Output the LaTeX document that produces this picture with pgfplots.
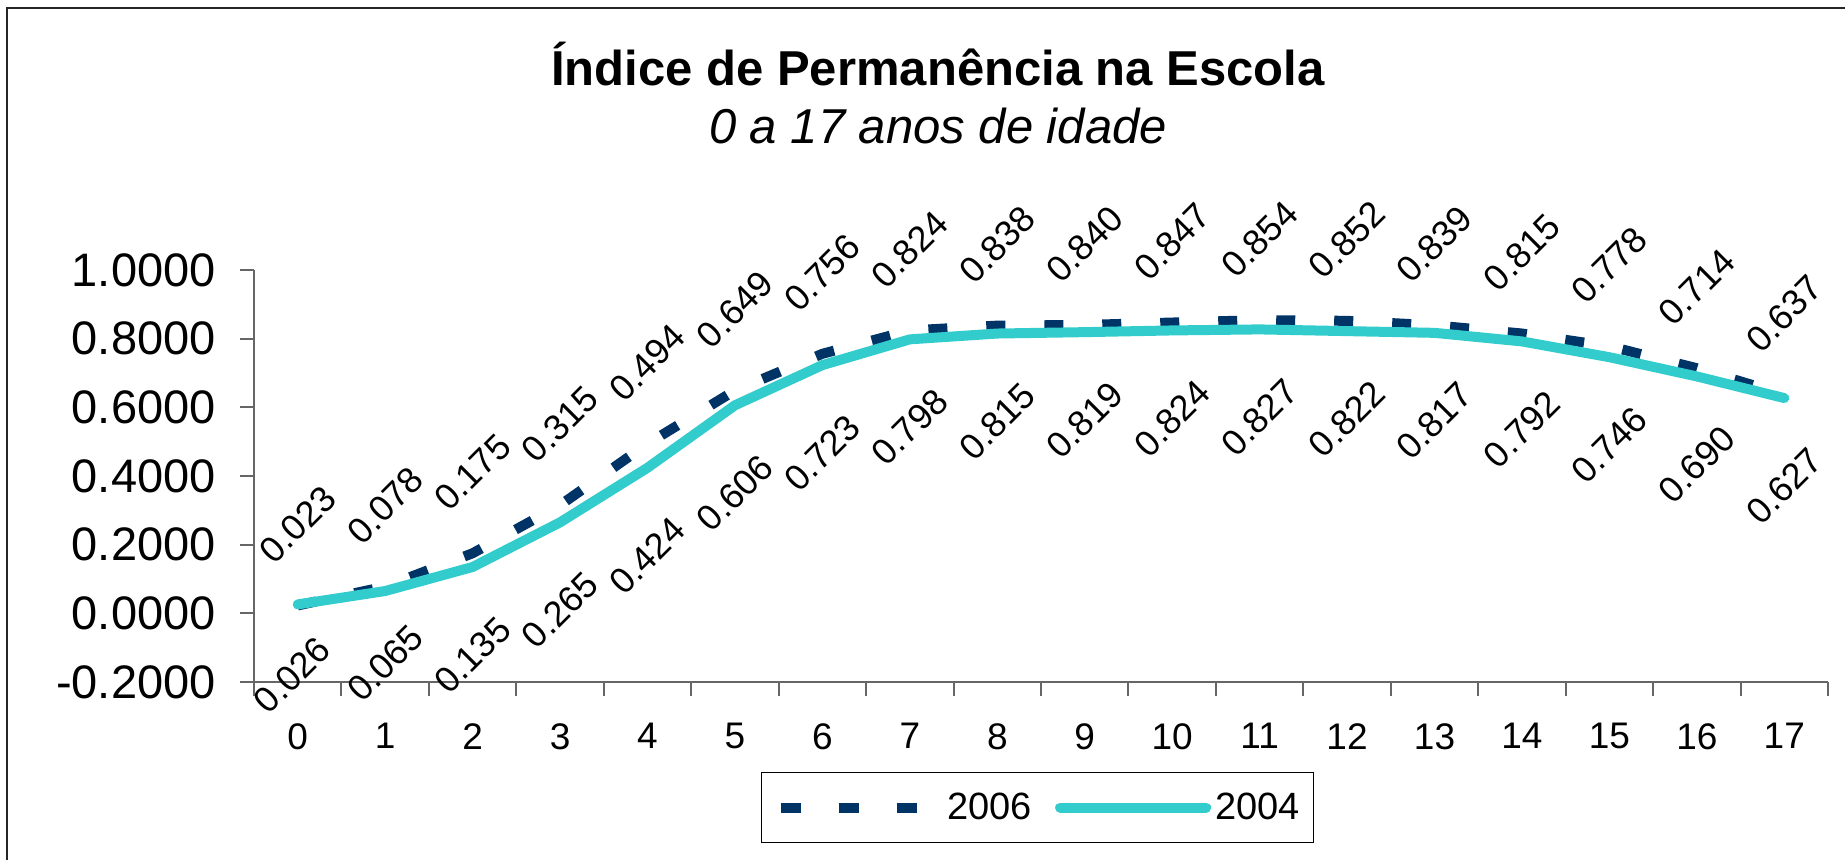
\documentclass[border=0pt]{standalone}
\usepackage{pgfplots}
\pgfplotsset{compat=1.18}
\usepackage{fontspec}
\setmainfont{Liberation Sans}
\definecolor{navy}{HTML}{003366}
\definecolor{turq}{HTML}{33CCCC}
\definecolor{axgray}{HTML}{666666}
\pgfplotsset{
  lbl/.style={nodes near coords={\pgfmathprintnumber[fixed,fixed zerofill,precision=3,assume math mode=true]{\pgfplotspointmeta}},
    every node near coord/.append style={black, font=\fontsize{18}{20}\selectfont, anchor=center, yshift=#1, rotate=45}},
}
\begin{document}
\begin{tikzpicture}
\useasboundingbox (0,0) rectangle (922.5pt,429.5pt);
\draw[line width=1pt, black!85] (3.5pt,-2pt) -- (3.5pt,425.5pt) -- (926pt,425.5pt);
\node[anchor=base, font=\fontsize{24.5}{29}\selectfont\bfseries] at (469pt,386.5pt) {Índice de Permanência na Escola};
\node[anchor=base, font=\fontsize{24.5}{29}\selectfont\itshape] at (469pt,357.75pt) {0 a 17 anos de idade};
\begin{axis}[
  at={(127pt,88.5pt)}, anchor=south west,
  scale only axis, width=787pt, height=206pt,
  xmin=-0.5, xmax=17.5, ymin=-0.2, ymax=1.0,
  axis x line*=bottom, axis y line*=left,
  axis line style={-, line width=1pt, draw=axgray},
  xtick={0,...,17},
  minor xtick={-0.5,0.5,...,17.5},
  ytick={-0.2,0,0.2,0.4,0.6,0.8,1.0},
  minor ytick={-0.2,0,0.2,0.4,0.6,0.8,1.0},
  major tick length=0pt,
  minor tick length=7pt,
  tick align=outside,
  tick style={line width=1pt, draw=axgray},
  yticklabel style={font=\fontsize{23.5}{28}\selectfont, anchor=east, inner sep=0pt, xshift=-19pt,
    /pgf/number format/.cd, fixed, fixed zerofill, precision=4, assume math mode=true},
  xticklabel style={font=\fontsize{18.5}{22}\selectfont, anchor=north, inner sep=0pt, yshift=-20.5pt,
    /pgf/number format/assume math mode=true},
  clip=false,
  legend style={at={(0.322,-0.2184)}, anchor=north west, draw=black, line width=0.75pt,
    font=\fontsize{19}{22}\selectfont, legend columns=2, inner xsep=7pt, inner ysep=10pt,
    nodes={inner sep=0pt},
    /tikz/column 1/.style={column sep=13pt},
    /tikz/column 2/.style={column sep=11.5pt},
    /tikz/column 3/.style={column sep=2pt}},
]
\addplot[navy, line width=5pt, dash pattern=on 9.5pt off 19.5pt,
  legend image code/.code={\draw[navy, line width=5pt, dash pattern=on 10pt off 19pt] (0pt,0pt) -- (68pt,0pt);},
  lbl=40.5pt]
coordinates {(0,0.023)(1,0.078)(2,0.175)(3,0.315)(4,0.494)(5,0.649)(6,0.756)(7,0.824)(8,0.838)(9,0.840)(10,0.847)(11,0.854)(12,0.852)(13,0.839)(14,0.815)(15,0.778)(16,0.714)(17,0.637)};
\addlegendentry{2006}
\addplot[turq, line width=5pt, line cap=round, line join=round,
  legend image code/.code={\draw[turq, line width=5pt, line cap=round] (2.5pt,0pt) -- (75.5pt,0pt);}]
coordinates {(0,0.026)(1,0.065)(2,0.135)(3,0.265)(4,0.424)(5,0.606)(6,0.723)(7,0.798)(8,0.815)(9,0.819)(10,0.824)(11,0.827)(12,0.822)(13,0.817)(14,0.792)(15,0.746)(16,0.690)(17,0.627)};
\addlegendentry{2004}
% 2004 data labels (the lowest two are held up near the chart's bottom, as in the reference)
\addplot[draw=none, mark=none, forget plot, lbl=-44pt]
coordinates {(2,0.135)(3,0.265)(4,0.424)(5,0.606)(6,0.723)(7,0.798)(8,0.815)(9,0.819)(10,0.824)(11,0.827)(12,0.822)(13,0.817)(14,0.792)(15,0.746)(16,0.690)(17,0.627)};
\addplot[draw=none, mark=none, forget plot, lbl=-32.5pt, every node near coord/.append style={xshift=-4pt}]
coordinates {(0,0.026)};
\addplot[draw=none, mark=none, forget plot, lbl=-36pt]
coordinates {(1,0.065)};
\end{axis}
\end{tikzpicture}
\end{document}
